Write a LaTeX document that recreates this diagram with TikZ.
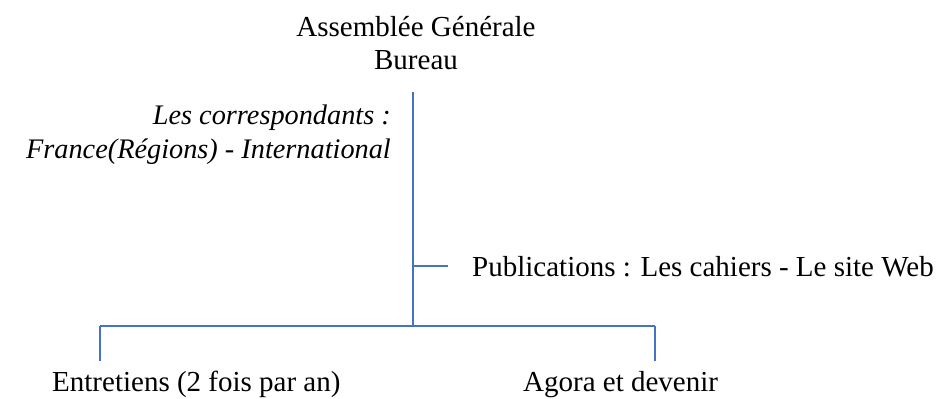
\documentclass[tikz,border=0pt]{standalone}
\usepackage{fontspec}
\setmainfont{Liberation Serif}
\begin{document}
\begin{tikzpicture}[x=1pt,y=-1pt,
  txt/.style={inner sep=0pt,font=\fontsize{29}{33}\selectfont},
  itxt/.style={inner sep=0pt,font=\fontsize{28.3}{34}\selectfont\itshape},
  ln/.style={draw={rgb,255:red,68;green,114;blue,196},line width=1.1pt}]
\useasboundingbox (0,0) rectangle (943,399);
\node[txt,align=center,anchor=base] (ag) at (416,69) {Assemblée Générale\\Bureau};
\node[itxt,align=right,anchor=base east] (corr) at (391,158) {Les correspondants :\\France(Régions) - International};
\node[txt,anchor=base west] (pub) at (472,276) {Publications : Les cahiers - Le site Web};
\node[txt,anchor=base west] (ent) at (52,391) {Entretiens (2 fois par an)};
\node[txt,anchor=base west] (ago) at (523,391) {Agora et devenir};
\coordinate (top) at (413,92);
\coordinate (mid) at (413,266);
\coordinate (stub) at (448,266);
\coordinate (bot) at (413,326);
\coordinate (bl) at (100,326);
\coordinate (br) at (655,326);
\coordinate (bld) at (100,361);
\coordinate (brd) at (655,361);
\draw[ln] (top) -- (bot);
\draw[ln] (mid) -- (stub);
\draw[ln] (bl) -- (br);
\draw[ln] (bl) -- (bld);
\draw[ln] (br) -- (brd);
\end{tikzpicture}
\end{document}
